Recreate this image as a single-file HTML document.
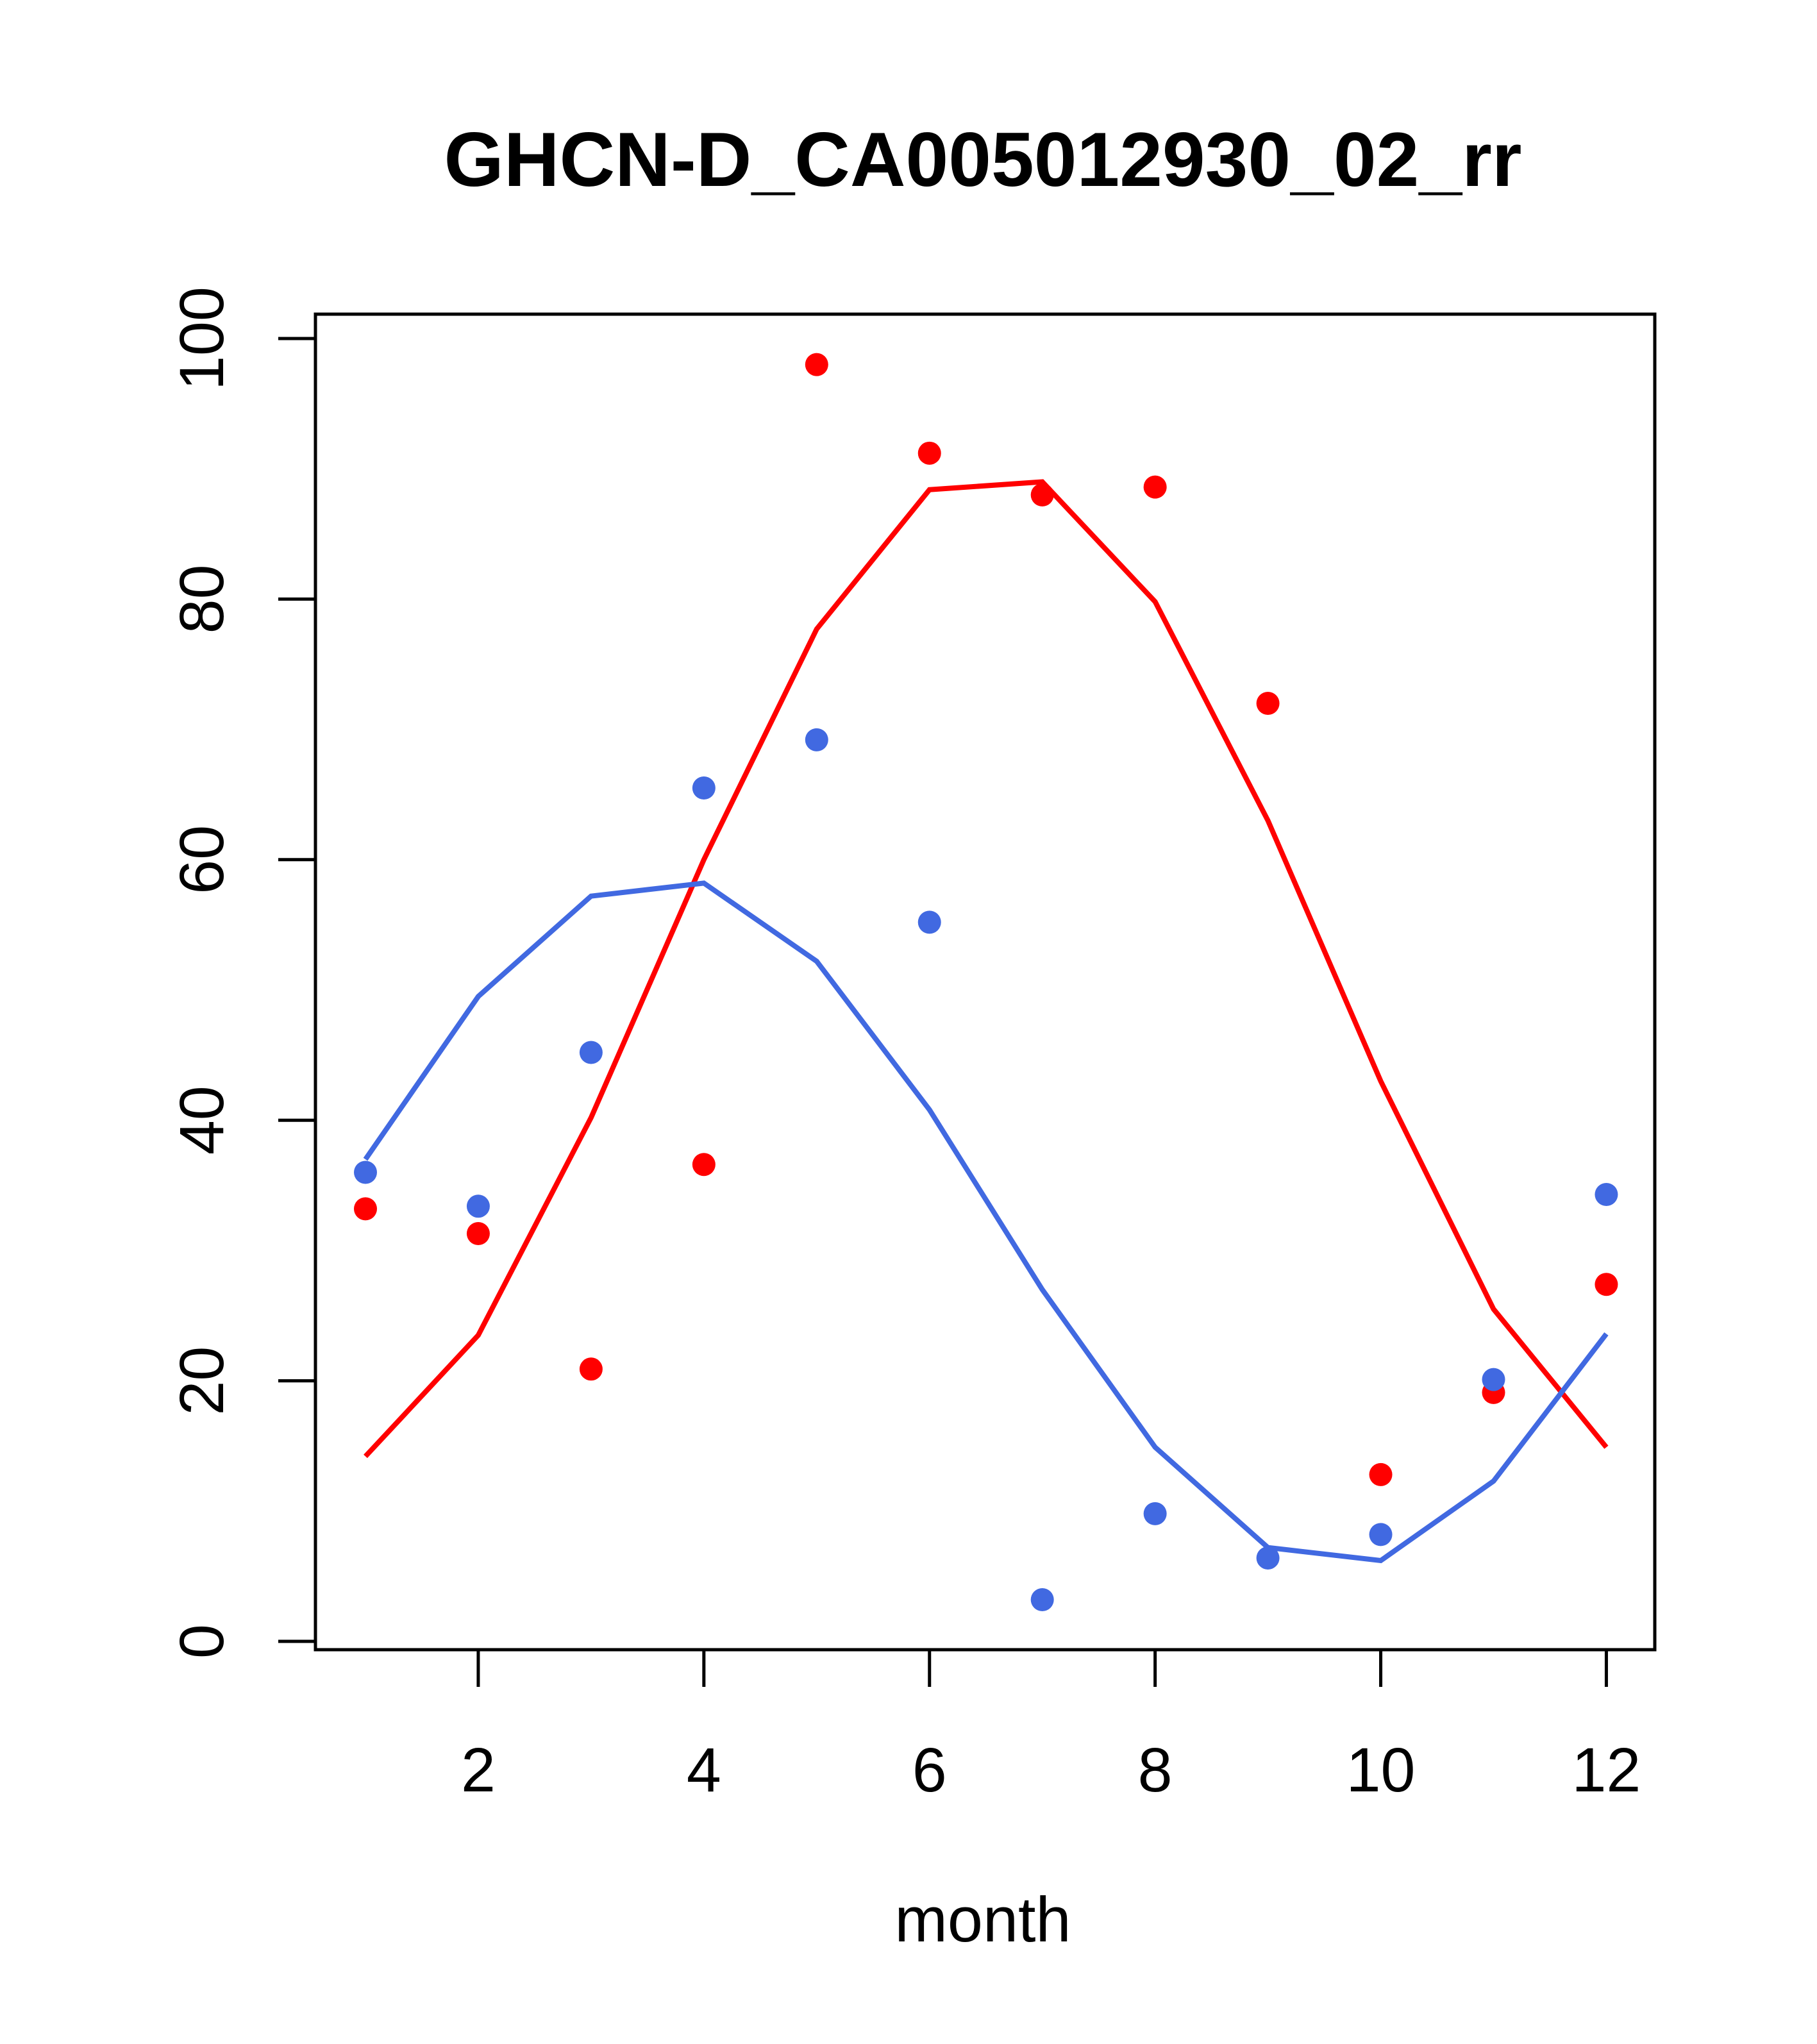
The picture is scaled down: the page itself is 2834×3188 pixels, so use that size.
<!DOCTYPE html>
<html><head><meta charset="utf-8"><style>html,body{margin:0;padding:0;background:#fff}svg{display:block}</style></head>
<body>
<svg id="chart" width="2834" height="3188" xmlns="http://www.w3.org/2000/svg" font-family="Liberation Sans, sans-serif">
<text x="1533" y="290" text-anchor="middle" font-size="120" font-weight="bold">GHCN-D_CA005012930_02_rr</text>
<rect x="492" y="490" width="2089" height="2083" fill="none" stroke="#000" stroke-width="5"/>
<g id="axes"></g>
<text x="1533" y="3028" text-anchor="middle" font-size="99">month</text>
<g id="marks"></g>
</svg>
<script>
const months = [1,2,3,4,5,6,7,8,9,10,11,12];
const redPoints = [33.2,31.3,20.9,36.6,98,91.2,88,88.6,72,12.8,19.1,27.4];
const redLine = [14.2,23.5,40.2,60,77.7,88.4,89,79.8,63,43,25.5,14.9];
const bluePoints = [36,33.4,45.2,65.5,69.2,55.2,3.2,9.8,6.4,8.2,20.1,34.3];
const blueLine = [37,49.5,57.2,58.2,52.2,40.8,27,14.9,7.2,6.2,12.3,23.6];
const xTicks = [2,4,6,8,10,12];
const yTicks = [0,20,40,60,80,100];
const NS = "http://www.w3.org/2000/svg";
const xs = m => 570 + (m - 1) * 175.95;
const ys = v => 2560 - v * 20.32;
function mk(tag, attrs, parent) { const e = document.createElementNS(NS, tag); for (const k in attrs) e.setAttribute(k, attrs[k]); parent.appendChild(e); return e; }
const axes = document.getElementById('axes');
const marks = document.getElementById('marks');
xTicks.forEach(t => {
  const l = mk('line', {x1: xs(t), x2: xs(t), y1: 2573, y2: 2631, stroke: '#000', 'stroke-width': 5}, axes);
  
  
  const tx = mk('text', {x: xs(t), y: 2794, 'text-anchor': 'middle', 'font-size': 97}, axes);
  tx.textContent = t;
  
  
});
yTicks.forEach(t => {
  const l = mk('line', {x1: 434, x2: 492, y1: ys(t), y2: ys(t), stroke: '#000', 'stroke-width': 5}, axes);
  
  
  const tx = mk('text', {x: 0, y: 0, 'text-anchor': 'middle', 'font-size': 97, transform: `translate(348,${ys(t)}) rotate(-90)`}, axes);
  tx.textContent = t;
  
  
});
function series(lineVals, ptVals, color, name) {
  const p = mk('polyline', {points: months.map((m, i) => xs(m) + ',' + ys(lineVals[i])).join(' '), fill: 'none', stroke: color, 'stroke-width': 8}, marks);
  
  
  months.forEach((m, i) => {
    const c = mk('circle', {cx: xs(m), cy: ys(ptVals[i]), r: 18, fill: color}, marks);
    
    
  });
}
series(redLine, redPoints, '#ff0000', 'red-series');
series(blueLine, bluePoints, '#4169e1', 'blue-series');
</script>
</body></html>
